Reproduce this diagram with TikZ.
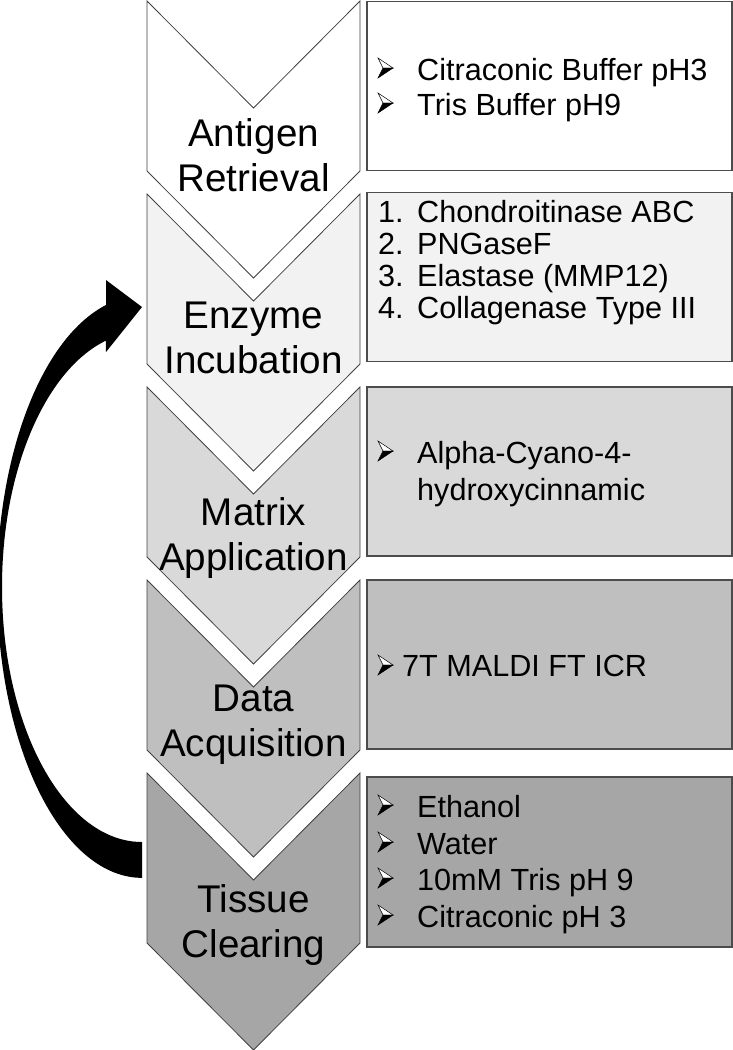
\documentclass[tikz,border=0pt]{standalone}
\usepackage{fontspec}
\setmainfont{Liberation Sans}
\usetikzlibrary{positioning}

\definecolor{shadeA}{HTML}{FFFFFF}
\definecolor{shadeB}{HTML}{F2F2F2}
\definecolor{shadeC}{HTML}{D9D9D9}
\definecolor{shadeD}{HTML}{BFBFBF}
\definecolor{shadeE}{HTML}{A6A6A6}

\tikzset{
  chevron/.style={draw=black!75, line width=0.8pt},
  infobox/.style={draw=black!70, line width=1.6pt, minimum width=365pt,
    minimum height=169pt, inner sep=0pt},
  steplabel/.style={anchor=north, align=center, inner sep=0pt,
    font=\fontsize{38.6}{45}\selectfont},
  itemtext/.style={anchor=north west, align=left, inner sep=0pt},
  % 3D arrowhead bullet, origin at its left middle
  bulletmark/.pic={
    \filldraw[fill=white, draw=black, line width=0.5pt] (0,-10) -- (15,0) -- (5,0) -- cycle;
    \filldraw[fill=black, draw=black, line width=0.5pt] (5,0) -- (15,0) -- (0,10) -- cycle;
  },
}

\begin{document}
\begin{tikzpicture}[x=1pt, y=-1pt]
    \useasboundingbox (0,0) rectangle (733,1050);

    % Chevrons, one per step
    \foreach \i/\col in {0/shadeA,1/shadeB,2/shadeC,3/shadeD,4/shadeE} {
        \pgfmathsetmacro{\ytop}{1+193*\i}
        \filldraw[chevron, fill=\col] (147,\ytop) -- (253.5,\ytop+107) -- (360,\ytop) --
            (360,\ytop+170) -- (253.5,\ytop+277) -- (147,\ytop+170) -- cycle;
    }

    % Step names
    \node[steplabel] (retrieval) at (253.5,118) {Antigen\\Retrieval};
    \node[steplabel] (enzyme) at (253.5,302) {Enzyme\\Incubation};
    \node[steplabel] (matrix) at (253.5,497) {Matrix\\Application};
    \node[steplabel] (acquisition) at (253.5,685) {Data\\Acquisition};
    \node[steplabel] (clearing) at (253.5,884) {Tissue\\Clearing};

    % Detail boxes
    \node[infobox, fill=shadeA] (box1) at (549.5,86) {};
    \node[infobox, fill=shadeB] (box2) at (549.5,277) {};
    \node[infobox, fill=shadeC] (box3) at (549.5,471.5) {};
    \node[infobox, fill=shadeD] (box4) at (549.5,664.5) {};
    \node[infobox, fill=shadeE, minimum height=170pt] (box5) at (549.5,862) {};

    \node[itemtext, font=\fontsize{30.6}{35}\selectfont] (buffers) at (417,58)
        {Citraconic Buffer pH3\\Tris Buffer pH9};
    \node[itemtext, font=\fontsize{30.6}{32}\selectfont] (enzymes) at (378,200)
        {\makebox[39pt][l]{1.}Chondroitinase ABC\\
         \makebox[39pt][l]{2.}PNGaseF\\
         \makebox[39pt][l]{3.}Elastase (MMP12)\\
         \makebox[39pt][l]{4.}Collagenase Type III};
    \node[itemtext, font=\fontsize{30.6}{37}\selectfont] (matrixitem) at (417,441)
        {Alpha-Cyano-4-\\hydroxycinnamic};
    \node[itemtext, font=\fontsize{30.6}{35}\selectfont] (instrument) at (402,655)
        {7T MALDI FT ICR};
    \node[itemtext, font=\fontsize{30.6}{36.7}\selectfont] (solvents) at (417,795)
        {Ethanol\\Water\\10mM Tris pH 9\\Citraconic pH 3};

    % Bullets
    \foreach \y in {68,103,451,665,805,842,878,915}
        \pic at (378,\y) {bulletmark};

    % Loop back arrow
    \fill[black] (142,842) arc[start angle=90, end angle=255, x radius=140, y radius=255]
        -- (106,352) -- (142,307) -- (106,280) -- (106,305)
        arc[start angle=255.6, end angle=90, x radius=145, y radius=291] -- cycle;
\end{tikzpicture}
\end{document}
